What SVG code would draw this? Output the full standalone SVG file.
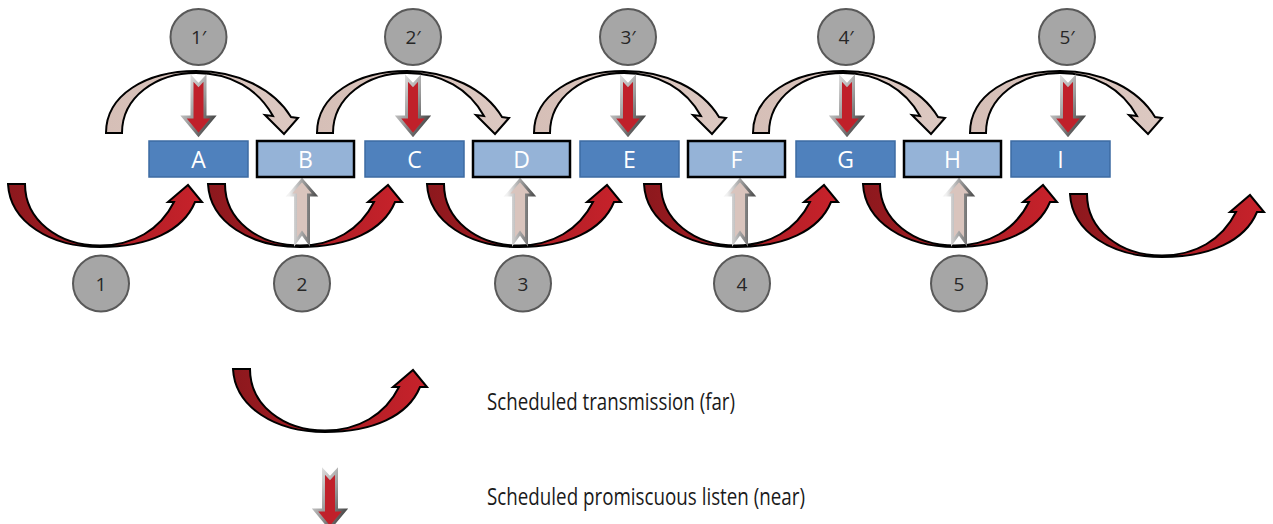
<svg xmlns="http://www.w3.org/2000/svg" xmlns:xlink="http://www.w3.org/1999/xlink" width="1273" height="524" viewBox="0 0 1273 524">
<style>
.dark{fill:#4F81BD;stroke:#3D6BA3;stroke-width:1.5}
.light{fill:#95B3D7;stroke:#000;stroke-width:2.5}
.lbl{font-family:"Open Sans","Liberation Sans",sans-serif;font-size:23px;fill:#fff;text-anchor:middle}
.circ{fill:#A6A6A6;stroke:#595959;stroke-width:2}
.ctxt{font-family:"Open Sans","Liberation Sans",sans-serif;font-size:19px;fill:#262626;text-anchor:middle}
.red{fill:url(#gRed);stroke:#000;stroke-width:2;stroke-linejoin:miter}
.tan{fill:url(#gTan);stroke:#000;stroke-width:2;stroke-linejoin:miter}
.listen{fill:#C0202A;stroke:url(#gEdge);stroke-width:3}
.up{fill:#D9C4BD;stroke:url(#gEdge2);stroke-width:3}
.leg{font-family:"Open Sans","Liberation Sans",sans-serif;font-size:23px;fill:#1a1a1a}
</style>
<defs>
<linearGradient id="gRed" x1="0" y1="0" x2="1" y2="0"><stop offset="0" stop-color="#8C181D"/><stop offset="1" stop-color="#C8222B"/></linearGradient>
<linearGradient id="gTan" x1="0" y1="0" x2="1" y2="0"><stop offset="0" stop-color="#D6BFB7"/><stop offset="1" stop-color="#DCC8C1"/></linearGradient>
<linearGradient id="gEdge" x1="0" y1="0" x2="1" y2="1"><stop offset="0" stop-color="#EEEEEE"/><stop offset="0.5" stop-color="#9A9A9A"/><stop offset="1" stop-color="#303030"/></linearGradient>
<linearGradient id="gEdge2" x1="0" y1="0" x2="1" y2="0"><stop offset="0" stop-color="#F2F2F2"/><stop offset="1" stop-color="#555555"/></linearGradient>
<path id="redArc" class="red" d="M0,0 L17,0 C17,36 50,61.5 92,61.5 C125,61.5 152,46 166,18 L160,18 L180,1 L194,18 L187,18 C175,47 140,63 92,63 C42,63 2,38 0,0 Z"/>
<path id="tanArc" class="tan" d="M0,0 C0,-38 40,-62 90,-62 C132,-62 168,-44 185,-16 L192,-15 L178,1 L159,-18 L167,-17 C152,-44 125,-60 90,-60 C50,-60 16,-36 16,0 Z"/>
<path id="listenArrow" class="listen" d="M-6.5,0 L0,7 L6.5,0 L6.5,39 L15,39 L0,57 L-15,39 L-6.5,39 Z"/>
<path id="upArrow" class="up" d="M0,0 L13,15 L6.5,15 L6.5,62 L0,53 L-6.5,62 L-6.5,15 L-13,15 Z"/>
</defs>
<rect width="1273" height="524" fill="#fff"/>

<g id="connectors">
  <use xlink:href="#tanArc" x="106" y="133"/>
  <use xlink:href="#tanArc" x="317" y="133"/>
  <use xlink:href="#tanArc" x="534" y="133"/>
  <use xlink:href="#tanArc" x="753" y="133"/>
  <use xlink:href="#tanArc" x="970" y="133"/>
  <use xlink:href="#redArc" x="8" y="184"/>
  <use xlink:href="#redArc" x="208" y="184"/>
  <use xlink:href="#redArc" x="427" y="184"/>
  <use xlink:href="#redArc" x="644" y="184"/>
  <use xlink:href="#redArc" x="863" y="184"/>
  <use xlink:href="#redArc" x="1070" y="194"/>
  <use xlink:href="#listenArrow" x="198.5" y="78"/>
  <use xlink:href="#listenArrow" x="413" y="78"/>
  <use xlink:href="#listenArrow" x="628" y="78"/>
  <use xlink:href="#listenArrow" x="847" y="78"/>
  <use xlink:href="#listenArrow" x="1068" y="78"/>
  <use xlink:href="#upArrow" x="302" y="180"/>
  <use xlink:href="#upArrow" x="520" y="180"/>
  <use xlink:href="#upArrow" x="740" y="180"/>
  <use xlink:href="#upArrow" x="959" y="180"/>
</g>

<g id="node-A"><rect class="dark" x="149" y="141" width="99" height="36"/><text class="lbl" x="198.5" y="168">A</text></g>
<g id="node-B"><rect class="light" x="257" y="141" width="97" height="36"/><text class="lbl" x="305.5" y="168">B</text></g>
<g id="node-C"><rect class="dark" x="365" y="141" width="99" height="36"/><text class="lbl" x="414.5" y="168">C</text></g>
<g id="node-D"><rect class="light" x="473" y="141" width="97" height="36"/><text class="lbl" x="521.5" y="168">D</text></g>
<g id="node-E"><rect class="dark" x="580" y="141" width="99" height="36"/><text class="lbl" x="629.5" y="168">E</text></g>
<g id="node-F"><rect class="light" x="688" y="141" width="97" height="36"/><text class="lbl" x="736.5" y="168">F</text></g>
<g id="node-G"><rect class="dark" x="796" y="141" width="99" height="36"/><text class="lbl" x="845.5" y="168">G</text></g>
<g id="node-H"><rect class="light" x="904" y="141" width="97" height="36"/><text class="lbl" x="952.5" y="168">H</text></g>
<g id="node-I"><rect class="dark" x="1011" y="141" width="99" height="36"/><text class="lbl" x="1060.5" y="168">I</text></g>

<g id="step-1p"><circle class="circ" cx="198.5" cy="37" r="28"/><text class="ctxt" x="198.5" y="44">1′</text></g>
<g id="step-2p"><circle class="circ" cx="413" cy="37" r="28"/><text class="ctxt" x="413" y="44">2′</text></g>
<g id="step-3p"><circle class="circ" cx="628" cy="37" r="28"/><text class="ctxt" x="628" y="44">3′</text></g>
<g id="step-4p"><circle class="circ" cx="846" cy="37" r="28"/><text class="ctxt" x="846" y="44">4′</text></g>
<g id="step-5p"><circle class="circ" cx="1067" cy="37" r="28"/><text class="ctxt" x="1067" y="44">5′</text></g>

<g id="step-1"><circle class="circ" cx="101" cy="283.5" r="28"/><text class="ctxt" x="101" y="290.5">1</text></g>
<g id="step-2"><circle class="circ" cx="302" cy="283.5" r="28"/><text class="ctxt" x="302" y="290.5">2</text></g>
<g id="step-3"><circle class="circ" cx="523" cy="283.5" r="28"/><text class="ctxt" x="523" y="290.5">3</text></g>
<g id="step-4"><circle class="circ" cx="742" cy="283.5" r="28"/><text class="ctxt" x="742" y="290.5">4</text></g>
<g id="step-5"><circle class="circ" cx="959" cy="283.5" r="28"/><text class="ctxt" x="959" y="290.5">5</text></g>

<g id="legend">
  <use xlink:href="#redArc" x="233" y="369"/>
  <text class="leg" x="487" y="410" textLength="248" lengthAdjust="spacingAndGlyphs">Scheduled transmission (far)</text>
  <use xlink:href="#listenArrow" x="330" y="471"/>
  <text class="leg" x="487" y="505" textLength="318" lengthAdjust="spacingAndGlyphs">Scheduled promiscuous listen (near)</text>
</g>
</svg>
